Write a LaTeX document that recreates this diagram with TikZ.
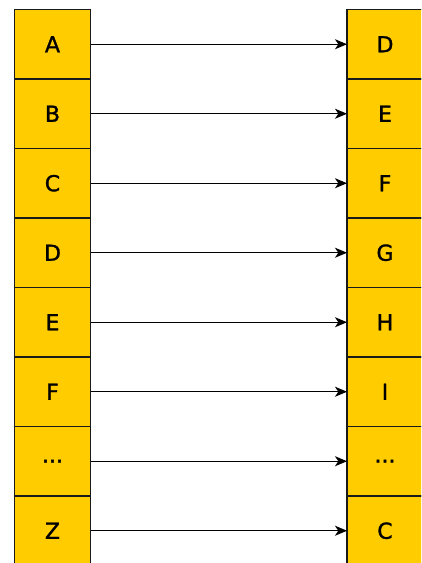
\documentclass[tikz,border=0pt]{standalone}
\usepackage{fontspec}
\setmainfont[FakeBold=1.3]{DejaVu Sans}
\usetikzlibrary{arrows.meta}
\definecolor{cellfill}{HTML}{FFCC00}
\definecolor{cellline}{HTML}{1A1A1A}
\newcommand\gapdots{...}
\tikzset{
  cell/.style={draw=cellline, fill=cellfill, line width=0.9pt,
    minimum width=57pt, minimum height=52.1pt, inner sep=0pt, outer sep=0pt,
    font=\fontsize{16.5}{19}\selectfont, anchor=north west},
  link/.style={draw=black, line width=0.8pt, -{Stealth[length=9pt,width=7.5pt,inset=2.5pt]}}
}
\begin{document}
\begin{tikzpicture}[x=0.75pt,y=-0.75pt]
  \useasboundingbox (0,0) rectangle (421,563);
  \clip (0,0) rectangle (421,563);
  % left column: plain letters
  \foreach \t [count=\i] in {A,B,C,D,E,F,\gapdots,Z}{
    \node[cell] (l\i) at (14.5,{9.5+69.5*(\i-1)}) {\t};
  }
  % right column: shifted letters
  \foreach \t [count=\i] in {D,E,F,G,H,I,\gapdots,C}{
    \node[cell] (r\i) at (347,{9.5+69.5*(\i-1)}) {\t};
  }
  % mapping arrows
  \foreach \i in {1,...,8}{
    \draw[link] (l\i.east) -- (r\i.west);
  }
\end{tikzpicture}
\end{document}
